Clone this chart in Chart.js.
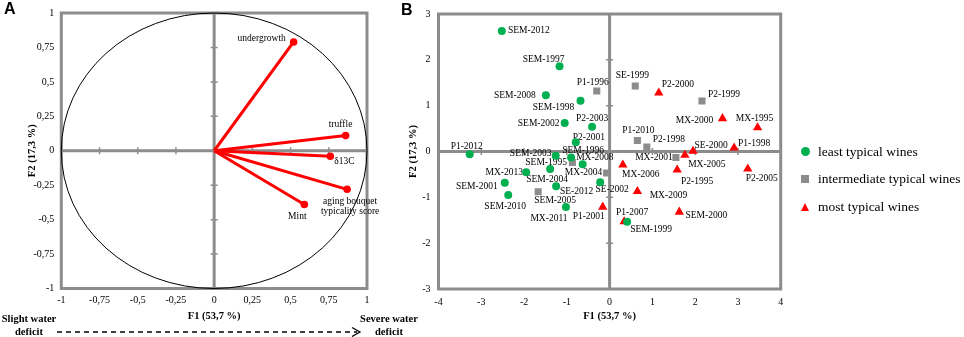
<!DOCTYPE html>
<html><head><meta charset="utf-8">
<script src="https://cdn.jsdelivr.net/npm/chart.js@4/dist/chart.umd.min.js"></script>
<style>
html,body{margin:0;padding:0;background:#fff;}
#wrap{position:relative;width:964px;height:337px;overflow:hidden;font-family:'Liberation Serif','Times New Roman',serif;color:#000;}
#cA{position:absolute;left:0;top:0;}
#cB{position:absolute;left:400px;top:0;}
.panel{position:absolute;font-family:'Liberation Sans',Arial,sans-serif;font-weight:bold;font-size:16px;line-height:18px;}
.note{position:absolute;font-weight:bold;font-size:10.5px;text-align:center;line-height:12.5px;white-space:nowrap;}
.leg{position:absolute;left:818px;font-size:13.5px;line-height:16px;white-space:nowrap;}
.mk{position:absolute;}
</style></head>
<body><div id="wrap">
<canvas id="cA" width="380" height="337"></canvas>
<canvas id="cB" width="392" height="337"></canvas>
<div class="panel" style="left:4px;top:0px;">A</div>
<div class="panel" style="left:401px;top:1px;">B</div>
<div class="note" style="left:0px;width:58px;top:313px;">Slight water<br>deficit</div>
<div class="note" style="left:359px;width:60px;top:313px;">Severe water<br>deficit</div>
<svg style="position:absolute;left:0;top:0;" width="964" height="337">
  <line x1="57" y1="332" x2="357" y2="332" stroke="#000" stroke-width="1.4" stroke-dasharray="5,4"/>
  <polyline points="352,327.5 360,332 352,336.5" fill="none" stroke="#000" stroke-width="1.3"/>
</svg>
<div class="mk" style="left:800.5px;top:147.2px;width:9px;height:9px;border-radius:50%;background:#00b050;"></div>
<div class="leg" style="top:143.7px;">least typical wines</div>
<div class="mk" style="left:801px;top:175.3px;width:8px;height:8px;background:#8c8c8c;"></div>
<div class="leg" style="top:171.3px;">intermediate typical wines</div>
<div class="mk" style="left:800.5px;top:203px;width:0;height:0;border-left:4.5px solid transparent;border-right:4.5px solid transparent;border-bottom:8.5px solid #ff0000;"></div>
<div class="leg" style="top:199.3px;">most typical wines</div>
</div>
<script>
// ---------- Panel A data (correlation circle) ----------
const aVarLabels = [['undergrowth'], ['truffle'], ['δ13C'], ['aging bouquet', 'typicality score'], ['Mint']];
const aF1 = [0.52, 0.86, 0.76, 0.87, 0.59];
const aF2 = [0.79, 0.11, -0.04, -0.28, -0.39];
const aXTicks = ['-1', '-0,75', '-0,5', '-0,25', '0', '0,25', '0,5', '0,75', '1'];
const aYTicks = ['-1', '-0,75', '-0,5', '-0,25', '0', '0,25', '0,5', '0,75', '1'];
// label offsets (px, relative to vector end)
const aLabelOff = [[-32, -3], [-5, -11], [14, 5], [3, 12], [-7, 12]];

// ---------- Panel B data (wines) ----------
const leastNames = ['SEM-2012','SEM-1997','SEM-2008','SEM-1998','SEM-2002','P2-2003','P2-2001','P1-2012','SEM-2003','SEM-1996','SEM-1995','MX-2013','SEM-2001','SEM-2010','SEM-2004','SE-2012','SE-2002','MX-2011','SEM-1999'];
const leastF1 = [-2.52,-1.17,-1.49,-0.68,-1.05,-0.41,-0.79,-3.27,-1.26,-0.90,-1.39,-1.95,-2.45,-2.37,-1.25,-0.63,-0.22,-1.02,0.41];
const leastF2 = [2.63,1.86,1.23,1.11,0.62,0.54,0.20,-0.06,-0.09,-0.13,-0.38,-0.45,-0.68,-0.95,-0.76,-0.28,-0.67,-1.21,-1.53];

const interNames = ['P1-1996','SE-1999','P2-1999','P1-2010','P2-1998','MX-2001','MX-2008','MX-2004','SEM-2005'];
const interF1 = [-0.30,0.60,2.16,0.65,0.87,1.55,-0.87,-0.07,-1.67];
const interF2 = [1.32,1.43,1.10,0.24,0.10,-0.13,-0.24,-0.47,-0.88];

const mostNames = ['P2-2000','MX-2000','MX-1995','P1-1998','SE-2000','MX-2005','P2-1995','P2-2005','MX-2006','MX-2009','P1-2001','P1-2007','SEM-2000'];
const mostF1 = [1.15,2.64,3.46,2.91,1.95,1.76,1.58,3.23,0.31,0.65,-0.16,0.34,1.63];
const mostF2 = [1.28,0.72,0.52,0.08,0.01,-0.08,-0.40,-0.38,-0.29,-0.87,-1.21,-1.53,-1.32];

const bXTicks = ['-4','-3','-2','-1','0','1','2','3','4'];
const bYTicks = ['-3','-2','-1','0','1','2','3'];
const seriesNames = ['least typical wines', 'intermediate typical wines', 'most typical wines'];

// label offsets (px) for panel B labels
const leastOff = [[27,0],[-16,-7],[-31,0],[-27,7],[-26,0],[0,-8],[13,-5],[-3,-8],[-25,-2],[12,-7],[-4,-6],[-22,0],[-28,4],[-3,11],[-9,-7],[-6,27],[12,7],[-17,12],[24,8]];
const interOff = [[-4,-9],[-3,-10],[22,-7],[1,-10],[22,-7],[-22,0],[22.5,-5],[-23,-1],[17,9]];
const mostOff = [[19,-8],[-28,2],[-3,-9],[20,-4],[18,-6],[22,9],[20,12],[14,10],[18,10],[31,4],[-14,10],[8,-9],[27,3]];

// ---------- styles ----------
const AX = '#8c8c8c';
const SERIF = "'Liberation Serif','Times New Roman',serif";
const GREEN = '#00b050', GRAY = '#8c8c8c', RED = '#ff0000';

const frame = {
  id: 'frame',
  beforeDatasetsDraw(chart, args, opts) {
    const {ctx, chartArea: a, scales: {x, y}} = chart;
    const x0 = x.getPixelForValue(0), y0 = y.getPixelForValue(0);
    ctx.save();
    ctx.strokeStyle = AX;
    ctx.lineWidth = 3;
    ctx.beginPath();
    ctx.moveTo(x0, a.top); ctx.lineTo(x0, a.bottom);
    ctx.moveTo(a.left, y0); ctx.lineTo(a.right, y0);
    ctx.stroke();
    ctx.strokeRect(a.left, a.top, a.right - a.left, a.bottom - a.top);
    ctx.lineWidth = 1.5;
    ctx.beginPath();
    x.ticks.forEach(t => {
      if (t.value === 0 || t.value === x.min || t.value === x.max) return;
      const px = x.getPixelForValue(t.value);
      ctx.moveTo(px, y0 - 3.5); ctx.lineTo(px, y0 + 3.5);
    });
    y.ticks.forEach(t => {
      if (t.value === 0 || t.value === y.min || t.value === y.max) return;
      const py = y.getPixelForValue(t.value);
      ctx.moveTo(x0 - 3.5, py); ctx.lineTo(x0 + 3.5, py);
    });
    ctx.stroke();
    if (opts.circle) {
      const rx = x.getPixelForValue(1) - x0, ry = y0 - y.getPixelForValue(1);
      ctx.strokeStyle = '#000'; ctx.lineWidth = 1;
      ctx.beginPath(); ctx.ellipse(x0, y0, rx, ry, 0, 0, Math.PI * 2); ctx.stroke();
    }
    if (opts.pointLabels) {
      ctx.fillStyle = '#000';
      ctx.font = '9.5px ' + SERIF;
      ctx.textAlign = 'center'; ctx.textBaseline = 'middle';
      opts.pointLabels.forEach((set, d) => {
        const meta = chart.getDatasetMeta(d);
        set.names.forEach((n, i) => {
          const el = meta.data[i];
          ctx.fillText(n, el.x + set.off[i][0], el.y + set.off[i][1]);
        });
      });
    }
    ctx.restore();
  },
  afterDatasetsDraw(chart, args, opts) {
    if (!opts.vectorLabels) return;
    const {ctx} = chart;
    ctx.save();
    ctx.fillStyle = '#000';
    ctx.font = '9.5px ' + SERIF;
    ctx.textAlign = 'center'; ctx.textBaseline = 'middle';
    opts.vectorLabels.forEach((lines, d) => {
      const el = chart.getDatasetMeta(d).data[1];
      lines.forEach((ln, k) => ctx.fillText(ln, el.x + aLabelOff[d][0], el.y + aLabelOff[d][1] + k * 10));
    });
    ctx.restore();
  }
};

function scaleCfg(min, max, step, labels, title, isX, fitSize, tickPad, titlePad) {
  return {
    type: 'linear', min, max,
    grid: {display: false, drawTicks: false},
    border: {display: false},
    ticks: {
      stepSize: step, autoSkip: false, maxRotation: 0, padding: tickPad,
      color: '#000', font: {family: SERIF, size: 10},
      callback: (v, i) => labels[i]
    },
    title: {
      display: true, text: title, color: '#000',
      font: {family: SERIF, size: 10.5, weight: 'bold'},
      padding: isX ? {top: 0, bottom: titlePad} : {top: titlePad, bottom: 0}
    },
    afterFit(s) { if (isX) s.height = fitSize; else s.width = fitSize; }
  };
}

// ---------- Chart A ----------
const aDatasets = aF1.map((v, i) => ({
  label: aVarLabels[i].join(' '),
  data: [{x: 0, y: 0}, {x: aF1[i], y: aF2[i]}],
  showLine: true,
  borderColor: RED, borderWidth: 3,
  pointRadius: [0, 3.8], pointHoverRadius: [0, 3.8],
  pointBackgroundColor: RED, pointBorderWidth: 0
}));

new Chart(document.getElementById('cA'), {
  type: 'scatter',
  data: {datasets: aDatasets},
  options: {
    responsive: false, animation: false,
    layout: {padding: {top: 6, right: 13, left: 0, bottom: 0}},
    plugins: {legend: {display: false}, tooltip: {enabled: false},
      frame: {circle: true, vectorLabels: aVarLabels}},
    scales: {
      x: scaleCfg(-1, 1, 0.25, aXTicks, 'F1 (53,7 %)', true, 48.5, 6, 14.5),
      y: scaleCfg(-1, 1, 0.25, aYTicks, 'F2 (17,3 %)', false, 61.3, 7, 25.5)
    }
  },
  plugins: [frame]
});

// ---------- Chart B ----------
const toPts = (xs, ys) => xs.map((v, i) => ({x: v, y: ys[i]}));
new Chart(document.getElementById('cB'), {
  type: 'scatter',
  data: {datasets: [
    {label: seriesNames[0], data: toPts(leastF1, leastF2), pointStyle: 'circle', pointRadius: 4, backgroundColor: GREEN, borderColor: GREEN, borderWidth: 0},
    {label: seriesNames[1], data: toPts(interF1, interF2), pointStyle: 'rect', pointRadius: 5, backgroundColor: GRAY, borderColor: GRAY, borderWidth: 0},
    {label: seriesNames[2], data: toPts(mostF1, mostF2), pointStyle: 'triangle', pointRadius: 5.4, backgroundColor: RED, borderColor: RED, borderWidth: 0}
  ]},
  options: {
    responsive: false, animation: false,
    layout: {padding: {top: 7, right: 11.3, left: 0, bottom: 0}},
    plugins: {legend: {display: false}, tooltip: {enabled: false},
      frame: {pointLabels: [
        {names: leastNames, off: leastOff},
        {names: interNames, off: interOff},
        {names: mostNames, off: mostOff}
      ]}},
    scales: {
      x: scaleCfg(-4, 4, 1, bXTicks, 'F1 (53,7 %)', true, 48, 7, 14.5),
      y: scaleCfg(-3, 3, 1, bYTicks, 'F2 (17,3 %)', false, 38.5, 8, 6.5)
    }
  },
  plugins: [frame]
});
</script>
</body></html>
